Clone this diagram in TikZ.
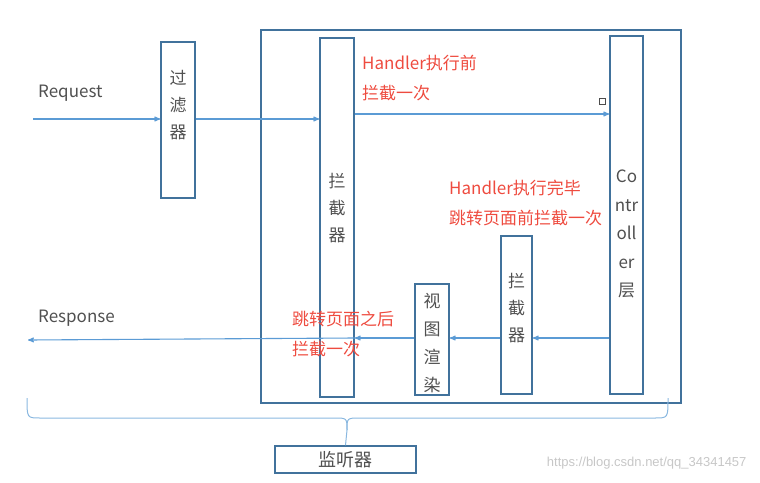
\documentclass[tikz,border=0pt]{standalone}
\usepackage{fontspec}
\setmainfont{Noto Sans CJK SC}
\newfontfamily\wmfont{Liberation Sans}
\usetikzlibrary{arrows}
\definecolor{boxblue}{HTML}{41729C}
\definecolor{flowblue}{HTML}{5B9BD5}
\definecolor{braceblue}{HTML}{8AB8E0}
\definecolor{notered}{HTML}{EE4B3F}
\definecolor{labelgray}{HTML}{505050}

\begin{document}
\begin{tikzpicture}[
    x=1pt, y=-1pt,
    >=stealth',
    box/.style = {
      draw = boxblue,
      line width = 1.5pt,
      inner sep = 0pt
    },
    flow/.style = {->, draw=flowblue, line width=1.1pt},
    boxtext/.style = {
      text = labelgray,
      align = center,
      inner sep = 0pt,
      font = \fontsize{17}{27}\selectfont
    },
    note/.style = {
      text = notered,
      anchor = west,
      align = left,
      inner sep = 0pt,
      font = \fontsize{17}{30}\selectfont
    },
    word/.style = {
      text = labelgray,
      anchor = west,
      inner sep = 0pt,
      font = \fontsize{17}{20}\selectfont
    }
  ]
  \useasboundingbox (0,0) rectangle (760,482);

  % container of the interceptor chain
  \draw[boxblue, line width=1.5pt] (261,30) rectangle (681,403);

  \node[box, minimum width=34pt, minimum height=156pt] (filter) at (178,120) {};
  \node[box, minimum width=34pt, minimum height=359pt] (int1) at (337,217.5) {};
  \node[box, minimum width=33pt, minimum height=358pt] (ctrl) at (626.5,215) {};
  \node[box, minimum width=31pt, minimum height=158pt] (int2) at (516.5,315) {};
  \node[box, minimum width=34pt, minimum height=111pt] (view) at (432,339.5) {};
  \node[box, minimum width=141pt, minimum height=27pt] (listener) at (345.5,459.5) {};

  \node[boxtext] (filter-txt) at (178,105) {过\\滤\\器};
  \node[boxtext] (int1-txt) at (337,208) {拦\\截\\器};
  \node[boxtext, font=\fontsize{17}{28.5}\selectfont] (ctrl-txt) at (626.5,234)
    {Co\\ntr\\oll\\er\\层};
  \node[boxtext] (int2-txt) at (516.5,308) {拦\\截\\器};
  \node[boxtext, font=\fontsize{17}{27.7}\selectfont] (view-txt) at (432,343)
    {视\\图\\渲\\染};
  \node[boxtext, font=\fontsize{18}{20}\selectfont] (listener-txt) at (345.5,460) {监听器};

  \node[word] (request) at (38,93) {Request};
  \node[word] (response) at (38,318) {Response};

  \node[note] (before) at (362,78) {Handler执行前\\拦截一次};
  \node[note] (after) at (449,202.5) {Handler执行完毕\\跳转页面前拦截一次};
  \node[note] (done) at (292,334.5) {跳转页面之后\\拦截一次};

  \node[draw=black!70, line width=0.8pt, minimum size=6pt, inner sep=0pt] (mark) at (602,101) {};

  \coordinate (req) at (33,119);
  \coordinate (fwd) at (354,114);
  \coordinate (back) at (532,338);
  \coordinate (resp) at (28,340);

  \draw[flow] (req) -- (filter.west |- req);
  \draw[flow] (filter.east |- req) -- (int1.west |- req);
  \draw[flow] (int1.east |- fwd) -- (ctrl.west |- fwd);
  \draw[flow] (ctrl.west |- back) -- (int2.east |- back);
  \draw[flow] (int2.west |- back) -- (view.east |- back);
  \draw[flow] (view.west |- back) -- (int1.east |- back);
  \draw[flow] (int1.east |- back) -- (resp);

  % brace over the listener
  \draw[braceblue, line width=1pt]
    (27,398) .. controls (27,418) .. (40,418) -- (334,418)
    .. controls (347,418) .. (347,430) -- (listener.north);
  \draw[braceblue, line width=1pt]
    (668,398) .. controls (668,418) .. (655,418) -- (360,418)
    .. controls (347,418) .. (347,430);

  \node[text=black!22, font=\wmfont\fontsize{13}{15}\selectfont, anchor=east] (wm) at (750,463)
    {https://blog.csdn.net/qq\_34341457};
\end{tikzpicture}
\end{document}
